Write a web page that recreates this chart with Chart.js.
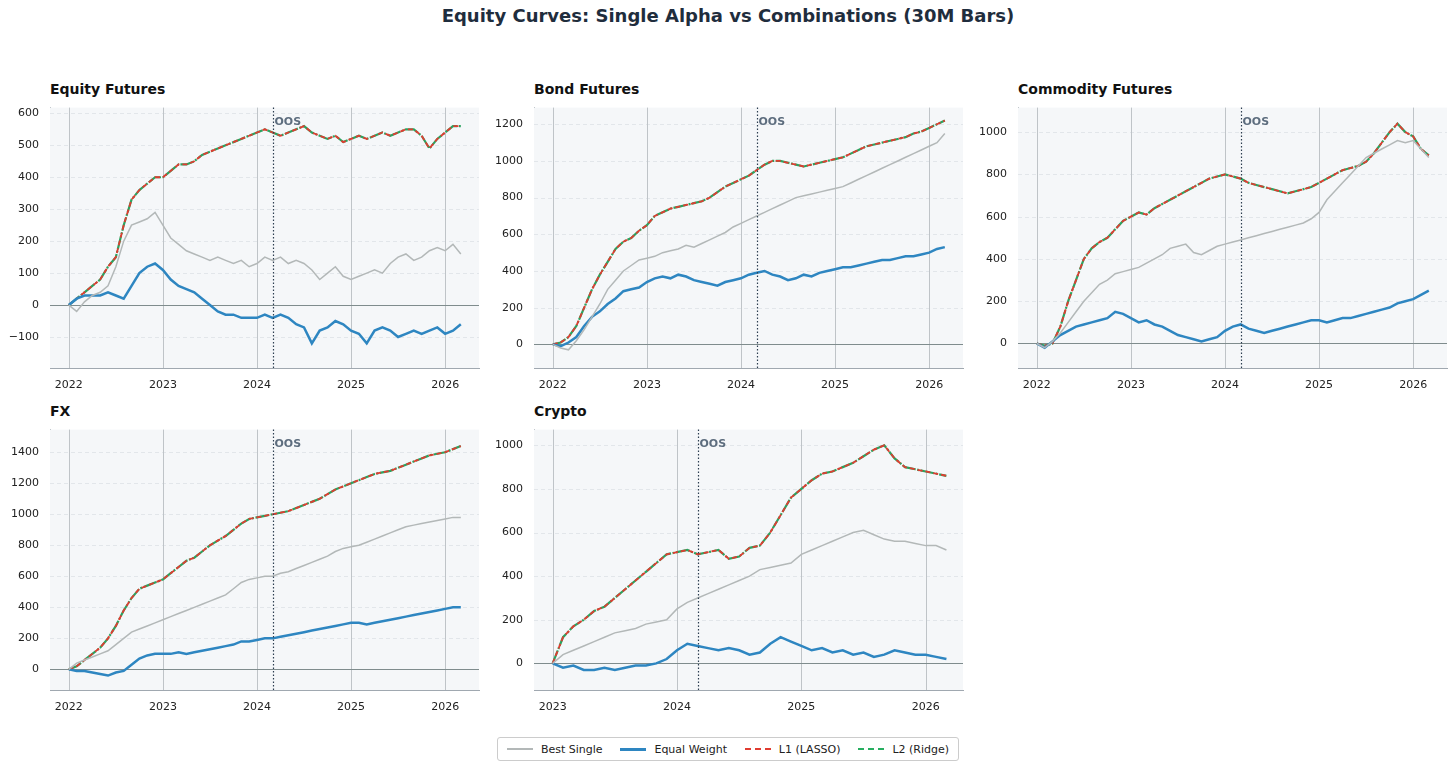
<!DOCTYPE html>
<html><head><meta charset="utf-8">
<script src="https://cdn.jsdelivr.net/npm/chart.js@4/dist/chart.umd.min.js"></script>
<style>
body{margin:0;background:#fff;font-family:"DejaVu Sans",sans-serif;width:1456px;height:767px;position:relative;overflow:hidden}
#title{position:absolute;top:5px;left:0;width:1456px;text-align:center;font-weight:bold;font-size:18px;color:#1f2d3d}
.pt{position:absolute;font-weight:bold;font-size:14px;color:#111}
canvas{position:absolute}
#legend{position:absolute;left:497px;top:737px;width:460px;height:22px;border:1px solid #ccc;border-radius:3px;display:flex;align-items:center;justify-content:space-around;font-size:11px;color:#222}
.li{display:flex;align-items:center;gap:8px}
.sw{width:26px;height:0;border-top:2px solid}
</style></head><body>
<div id="title">Equity Curves: Single Alpha vs Combinations (30M Bars)</div>
<div id="legend">
 <div class="li"><span class="sw" style="border-color:#b3b8b8"></span>Best Single</div>
 <div class="li"><span class="sw" style="border-color:#2e86c1;border-top-width:3px"></span>Equal Weight</div>
 <div class="li"><span class="sw" style="border-color:#e03c31;border-top-style:dashed"></span>L1 (LASSO)</div>
 <div class="li"><span class="sw" style="border-color:#27ae60;border-top-style:dashed"></span>L2 (Ridge)</div>
</div>
<script>
// monthly values
const equityBest = [0,-20,10,30,40,60,120,200,250,260,270,290,250,210,190,170,160,150,140,150,140,130,140,120,130,150,140,150,130,140,130,110,80,100,120,90,80,90,100,110,100,130,150,160,140,150,170,180,170,190,160];
const equityEW = [0,20,30,30,30,40,30,20,60,100,120,130,110,80,60,50,40,20,0,-20,-30,-30,-40,-40,-40,-30,-40,-30,-40,-60,-70,-120,-80,-70,-50,-60,-80,-90,-120,-80,-70,-80,-100,-90,-80,-90,-80,-70,-90,-80,-60];
const equityL2 = [0,20,40,60,80,120,150,250,330,360,380,400,400,420,440,440,450,470,480,490,500,510,520,530,540,550,540,530,540,550,560,540,530,520,530,510,520,530,520,530,540,530,540,550,550,530,490,520,540,560,560];

const bondBest = [0,-20,-30,20,80,150,220,300,350,400,430,460,470,480,500,510,520,540,530,550,570,590,610,640,660,680,700,720,740,760,780,800,810,820,830,840,850,860,880,900,920,940,960,980,1000,1020,1040,1060,1080,1100,1150];
const bondEW = [0,-10,10,40,100,150,180,220,250,290,300,310,340,360,370,360,380,370,350,340,330,320,340,350,360,380,390,400,380,370,350,360,380,370,390,400,410,420,420,430,440,450,460,460,470,480,480,490,500,520,530];
const bondL2 = [0,10,40,100,200,300,380,450,520,560,580,620,650,700,720,740,750,760,770,780,800,830,860,880,900,920,950,980,1000,1000,990,980,970,980,990,1000,1010,1020,1040,1060,1080,1090,1100,1110,1120,1130,1150,1160,1180,1200,1220];

const commBest = [0,-20,10,50,100,150,200,240,280,300,330,340,350,360,380,400,420,450,460,470,430,420,440,460,470,480,490,500,510,520,530,540,550,560,570,590,620,680,720,760,800,840,880,900,920,940,960,950,960,920,880];
const commEW = [0,-20,10,40,60,80,90,100,110,120,150,140,120,100,110,90,80,60,40,30,20,10,20,30,60,80,90,70,60,50,60,70,80,90,100,110,110,100,110,120,120,130,140,150,160,170,190,200,210,230,250];
const commL2 = [0,-10,0,80,200,300,400,450,480,500,540,580,600,620,610,640,660,680,700,720,740,760,780,790,800,790,780,760,750,740,730,720,710,720,730,740,760,780,800,820,830,840,860,900,950,1000,1040,1000,980,920,890];

const fxBest = [0,40,60,80,100,120,160,200,240,260,280,300,320,340,360,380,400,420,440,460,480,520,560,580,590,600,600,620,630,650,670,690,710,730,760,780,790,800,820,840,860,880,900,920,930,940,950,960,970,980,980];
const fxEW = [0,-10,-10,-20,-30,-40,-20,-10,30,70,90,100,100,100,110,100,110,120,130,140,150,160,180,180,190,200,200,210,220,230,240,250,260,270,280,290,300,300,290,300,310,320,330,340,350,360,370,380,390,400,400];
const fxL2 = [0,20,60,100,140,200,280,380,460,520,540,560,580,620,660,700,720,760,800,830,860,900,940,970,980,990,1000,1010,1020,1040,1060,1080,1100,1130,1160,1180,1200,1220,1240,1260,1270,1280,1300,1320,1340,1360,1380,1390,1400,1420,1440];

const cryptoBest = [0,40,60,80,100,120,140,150,160,180,190,200,250,280,300,320,340,360,380,400,430,440,450,460,500,520,540,560,580,600,610,590,570,560,560,550,540,540,520];
const cryptoEW = [0,-20,-10,-30,-30,-20,-30,-20,-10,-10,0,20,60,90,80,70,60,70,60,40,50,90,120,100,80,60,70,50,60,40,50,30,40,60,50,40,40,30,20];
const cryptoL2 = [0,120,170,200,240,260,300,340,380,420,460,500,510,520,500,510,520,480,490,530,540,600,680,760,800,840,870,880,900,920,950,980,1000,940,900,890,880,870,860];

const oosYear = 2024.17;

const panels = [
  {name:'Equity Futures', start:2022, best:equityBest, ew:equityEW, l2:equityL2, xmin:2021.8, xmax:2026.36, ymin:-197, ymax:618, step:100, left:50, top:103},
  {name:'Bond Futures', start:2022, best:bondBest, ew:bondEW, l2:bondL2, xmin:2021.8, xmax:2026.36, ymin:-129, ymax:1291, step:200, left:534, top:103},
  {name:'Commodity Futures', start:2022, best:commBest, ew:commEW, l2:commL2, xmin:2021.8, xmax:2026.36, ymin:-116, ymax:1116, step:200, left:1018, top:103},
  {name:'FX', start:2022, best:fxBest, ew:fxEW, l2:fxL2, xmin:2021.8, xmax:2026.36, ymin:-133, ymax:1546, step:200, left:50, top:425},
  {name:'Crypto', start:2023, best:cryptoBest, ew:cryptoEW, l2:cryptoL2, xmin:2022.85, xmax:2026.3, ymin:-122, ymax:1072, step:200, left:534, top:425},
];

const pts = (arr, start) => arr.map((v, i) => ({x: start + i / 12, y: v}));

const extras = {
  id: 'extras',
  beforeDatasetsDraw(chart) {
    const {ctx, chartArea: a, scales: {x, y}} = chart;
    ctx.save();
    ctx.fillStyle = '#f5f7f9';
    ctx.fillRect(a.left, a.top, a.right - a.left, a.bottom - a.top);
    // horizontal dashed grid
    ctx.strokeStyle = '#e2e6ea'; ctx.lineWidth = 1; ctx.setLineDash([4, 3]);
    y.ticks.forEach(t => { const py = Math.round(y.getPixelForValue(t.value)) + .5;
      ctx.beginPath(); ctx.moveTo(a.left, py); ctx.lineTo(a.right, py); ctx.stroke(); });
    ctx.setLineDash([]);
    // vertical year lines
    ctx.strokeStyle = '#bfc4c8';
    x.ticks.forEach(t => { const px = Math.round(x.getPixelForValue(t.value)) + .5;
      ctx.beginPath(); ctx.moveTo(px, a.top); ctx.lineTo(px, a.bottom); ctx.stroke(); });
    // zero line
    ctx.strokeStyle = '#7f8c8d';
    const zy = Math.round(y.getPixelForValue(0)) + .5;
    ctx.beginPath(); ctx.moveTo(a.left, zy); ctx.lineTo(a.right, zy); ctx.stroke();
    ctx.restore();
  },
  afterDatasetsDraw(chart) {
    const {ctx, chartArea: a, scales: {x}} = chart;
    const px = Math.round(x.getPixelForValue(oosYear)) + .5;
    ctx.save();
    ctx.strokeStyle = '#2c3e50'; ctx.lineWidth = 1.2; ctx.setLineDash([1.5, 2]);
    ctx.beginPath(); ctx.moveTo(px, a.top); ctx.lineTo(px, a.bottom); ctx.stroke();
    ctx.fillStyle = '#5d6d7e'; ctx.font = 'bold 11px "DejaVu Sans"'; ctx.textBaseline = 'top';
    ctx.fillText('OOS', px + 1, a.top + 9);
    ctx.restore();
  }
};

panels.forEach(p => {
  const W = 429, H = 265;
  const t = document.createElement('div');
  t.className = 'pt'; t.textContent = p.name;
  t.style.left = p.left + 'px'; t.style.top = (p.top - 22) + 'px';
  document.body.appendChild(t);
  const wrap = document.createElement('div');
  wrap.style.cssText = `position:absolute;left:${p.left - 50}px;top:${p.top - 5}px;width:${W + 55}px;height:${H + 35}px`;
  const cv = document.createElement('canvas');
  wrap.appendChild(cv); document.body.appendChild(wrap);
  new Chart(cv, {
    type: 'line',
    data: {datasets: [
      {data: pts(p.best, p.start), borderColor: '#b3b8b8', borderWidth: 1.5},
      {data: pts(p.ew, p.start), borderColor: '#2e86c1', borderWidth: 2.5},
      {data: pts(p.l2, p.start), borderColor: '#e03c31', borderWidth: 1.8, borderDash: [5, 3]},
      {data: pts(p.l2, p.start), borderColor: '#2ca25f', borderWidth: 2.2, borderDash: [14, 1.5, 2, 1.5]},
    ]},
    options: {
      responsive: true, maintainAspectRatio: false, animation: false,
      elements: {point: {radius: 0}, line: {tension: 0}},
      layout: {padding: {top: 5, right: 5, left: 0, bottom: 0}},
      plugins: {legend: {display: false}, tooltip: {enabled: false}},
      scales: {
        x: {type: 'linear', min: p.xmin, max: p.xmax,
            afterFit: s => { s.height = 30; },
            afterBuildTicks: s => { s.ticks = []; for (let yr = Math.ceil(p.xmin); yr <= p.xmax; yr++) s.ticks.push({value: yr}); },
            grid: {display: false, drawTicks: true}, border: {color: '#a0a8b0'},
            ticks: {color: '#222', font: {family: 'DejaVu Sans', size: 11}, callback: v => String(v), maxRotation: 0}},
        y: {min: p.ymin, max: p.ymax,
            afterFit: s => { s.width = 50; },
            afterBuildTicks: s => { s.ticks = []; for (let v = Math.ceil(p.ymin / p.step) * p.step; v <= p.ymax; v += p.step) s.ticks.push({value: v}); },
            grid: {display: false}, border: {color: '#a0a8b0'},
            ticks: {color: '#222', font: {family: 'DejaVu Sans', size: 11}, callback: v => String(v).replace('-', '\u2212')}}
      }
    },
    plugins: [extras]
  });
});
</script>
</body></html>
